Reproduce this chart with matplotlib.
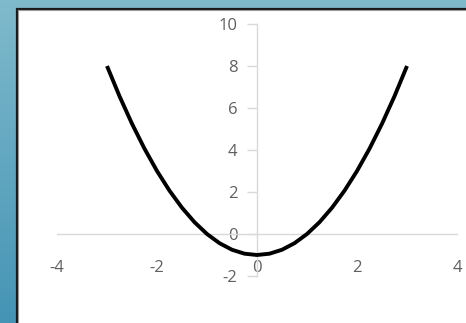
import numpy as np
import matplotlib
matplotlib.use("Agg")
import matplotlib.pyplot as plt
from matplotlib.patches import Rectangle

# Curve samples: y = x^2 - 1 over [-3, 3]
x_vals = [-3.0, -2.75, -2.5, -2.25, -2.0, -1.75, -1.5, -1.25, -1.0, -0.75, -0.5, -0.25,
          0.0, 0.25, 0.5, 0.75, 1.0, 1.25, 1.5, 1.75, 2.0, 2.25, 2.5, 2.75, 3.0]
y_vals = [8.0, 6.5625, 5.25, 4.0625, 3.0, 2.0625, 1.25, 0.5625, 0.0, -0.4375, -0.75, -0.9375,
          -1.0, -0.9375, -0.75, -0.4375, 0.0, 0.5625, 1.25, 2.0625, 3.0, 4.0625, 5.25, 6.5625, 8.0]
x_ticks = [-4, -2, 0, 2, 4]
y_ticks = [-2, 0, 2, 4, 6, 8, 10]

W, H = 466, 323
fig = plt.figure(figsize=(W / 100, H / 100), dpi=100)

# Blue gradient backdrop
bg = fig.add_axes([0, 0, 1, 1])
grad = np.linspace(0, 1, 256)[:, None]
top = np.array([0.50, 0.73, 0.80])
bot = np.array([0.27, 0.58, 0.71])
img = top[None, None, :] * (1 - grad[..., None]) + bot[None, None, :] * grad[..., None]
img = np.repeat(img, 4, axis=1)
bg.imshow(img, aspect="auto", extent=[0, W, H, 0])
bg.set_xlim(0, W)
bg.set_ylim(H, 0)
bg.axis("off")

# White chart panel with dark shadowed left/top edges
bg.add_patch(Rectangle((16, 8), W - 16, H - 8, facecolor="white", edgecolor="none"))
bg.plot([16.5, 16.5], [8, H], color="#1a1a1a", lw=1.6, solid_capstyle="butt")
bg.plot([16, W], [8.5, 8.5], color="#1a1a1a", lw=1.6, solid_capstyle="butt")
bg.plot([18.2, 18.2], [10, H], color="#9a9a9a", lw=0.8)
bg.plot([18, W], [10.2, 10.2], color="#9a9a9a", lw=0.8)

# Plot axes: x in [-4, 4] -> px 57..457, y in [-2, 10] -> px 276..24
left = 57 / W
width = 400 / W
bottom = (H - 276) / H
height = 252 / H
ax = fig.add_axes([left, bottom, width, height])
ax.patch.set_alpha(0)
ax.set_xlim(-4, 4)
ax.set_ylim(-2, 10)

axis_color = "#d9d9d9"
label_color = "#606060"
for s in ["top", "right"]:
    ax.spines[s].set_visible(False)
ax.spines["left"].set_position(("data", 0))
ax.spines["bottom"].set_position(("data", 0))
ax.spines["left"].set_color(axis_color)
ax.spines["bottom"].set_color(axis_color)
ax.spines["left"].set_linewidth(1.0)
ax.spines["bottom"].set_linewidth(1.0)

ax.set_xticks(x_ticks)
ax.set_yticks(y_ticks)
ax.set_xticklabels([str(v) for v in x_ticks])
ax.set_yticklabels([str(v) for v in y_ticks])
ax.tick_params(axis="y", direction="out", length=7, width=1.0, color=axis_color,
               pad=7, labelsize=12, labelcolor=label_color)
ax.tick_params(axis="x", length=0, pad=18.5, labelsize=12, labelcolor=label_color)
for t in ax.get_xticklabels() + ax.get_yticklabels():
    t.set_fontfamily("Open Sans")

ax.plot(x_vals, y_vals, color="black", lw=2.8, solid_capstyle="butt", zorder=3)

fig.savefig("out.png", dpi=100)
